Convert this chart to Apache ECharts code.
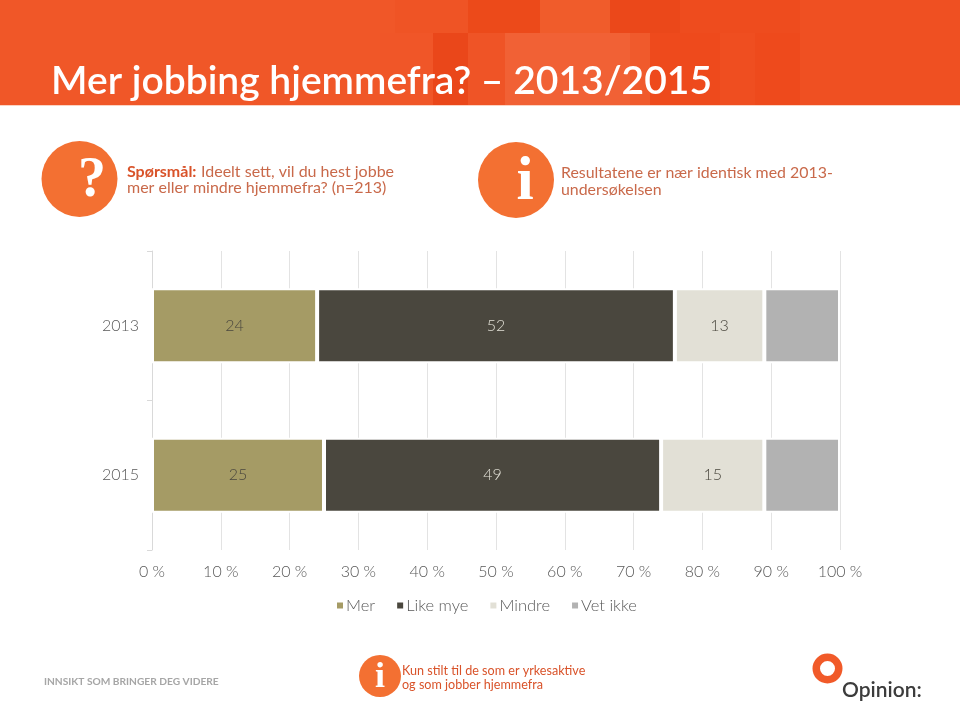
<!DOCTYPE html>
<html><head><meta charset="utf-8">
<style>html,body{margin:0;padding:0;background:#fff}#c{width:960px;height:702px}</style>
<script src="https://cdn.jsdelivr.net/npm/echarts@6/dist/echarts.min.js"></script>
</head><body><div id="c"></div>
<script>
var categories = ['2013', '2015'];
var serMer = [24, 25];
var serLike = [52, 49];
var serMindre = [13, 15];
var serVet = [11, 11];
var F = 'Lato, "Open Sans", sans-serif';
var chart = echarts.init(document.getElementById('c'));
function bar(name, data, color, showLabel, labelColor) {
  return {
    name: name, type: 'bar', stack: 't', data: data, barWidth: 75,
    itemStyle: {color: color, borderColor: '#fff', borderWidth: 2},
    label: {show: showLabel, position: 'inside', color: labelColor, fontFamily: F, fontSize: 16, fontWeight: 300}
  };
}
function tile(x, y, w, h, c) { return {type: 'rect', silent: true, shape: {x: x, y: y, width: w, height: h}, style: {fill: c}}; }
function txt(x, y, s, fs, c, w, extra) {
  var st = {x: x, y: y, text: s, font: (w || 300) + ' ' + fs + 'px ' + F, fill: c, textVerticalAlign: 'middle'};
  for (var k in (extra || {})) st[k] = extra[k];
  return {type: 'text', silent: true, style: st};
}
function circle(cx, cy, r, c) { return {type: 'circle', silent: true, shape: {cx: cx, cy: cy, r: r}, style: {fill: c}}; }
var grey = '#e3e3e3';
var option = {
  animation: false,
  backgroundColor: '#fff',
  grid: {left: 152, right: 120, top: 251, bottom: 152, containLabel: false},
  xAxis: {
    type: 'value', min: 0, max: 100, interval: 10,
    axisLine: {show: false}, axisTick: {show: false},
    splitLine: {show: true, lineStyle: {color: grey, width: 1}},
    axisLabel: {formatter: '{value} %', color: '#595959', fontFamily: F, fontWeight: 300, fontSize: 16, margin: 14}
  },
  yAxis: {
    type: 'category', data: categories, inverse: true,
    axisLine: {show: true, lineStyle: {color: '#d9d9d9'}},
    axisTick: {show: true, length: 5, lineStyle: {color: '#d9d9d9'}},
    axisLabel: {color: '#595959', fontFamily: F, fontWeight: 300, fontSize: 16, margin: 13}
  },
  legend: {
    left: 330, top: 592, itemWidth: 8, itemHeight: 8, itemGap: 20, icon: 'rect',
    textStyle: {color: '#595959', fontFamily: F, fontWeight: 300, fontSize: 16.5, padding: [0, 0, 0, -3]},
    data: ['Mer', 'Like mye', 'Mindre', 'Vet ikke']
  },
  series: [
    bar('Mer', serMer, '#a59b65', true, '#4a473e'),
    bar('Like mye', serLike, '#4a473e', true, '#e2e0d6'),
    bar('Mindre', serMindre, '#e2e0d6', true, '#4a473e'),
    bar('Vet ikke', serVet, '#b2b2b2', false, '#4a473e')
  ],
  graphic: {elements: [
    tile(0, 0, 960, 105, '#f05728'),
    tile(800, 0, 160, 105, '#ef5022'),
    tile(395, 0, 73, 33, '#ef5425'),
    tile(468, 0, 72, 33, '#ec4a1a'),
    tile(540, 0, 70, 33, '#f05c2b'),
    tile(610, 0, 70, 33, '#eb481a'),
    tile(680, 0, 120, 33, '#ee4c1e'),
    tile(380, 33, 53, 72, '#f05628'),
    tile(433, 33, 35, 72, '#ea471a'),
    tile(468, 33, 37, 72, '#ef5426'),
    tile(505, 33, 125, 72, '#f16135'),
    tile(630, 33, 20, 72, '#f05a2c'),
    tile(650, 33, 150, 72, '#ee4a1c'),
    tile(720, 33, 35, 72, '#ef4e20'),
    {type: 'rect', silent: true, shape: {x: 0, y: 105, width: 960, height: 1}, style: {fill: '#fbd3c3'}},
    txt(51, 81, 'Mer jobbing hjemmefra? – 2013/2015', 39, '#ffffff', 600),
    circle(79.5, 179, 38, '#f37032'),
    txt(92, 182, '?', 56, '#ffffff', 700, {font: '700 56px "Liberation Serif", serif', textAlign: 'center'}),
    txt(127, 172, 'Spørsmål:', 16, '#d9532a', 700),
    txt(201, 172, 'Ideelt sett, vil du hest jobbe', 16, '#c9694a', 400),
    txt(127, 188, 'mer eller mindre hjemmefra? (n=213)', 16, '#c9694a', 400),
    circle(516, 180, 38, '#f37032'),
    txt(525, 183, 'i', 62, '#ffffff', 700, {font: '700 62px "Liberation Serif", serif', textAlign: 'center'}),
    txt(561, 173, 'Resultatene er nær identisk med 2013-', 15.9, '#c9694a', 400),
    txt(561, 190, 'undersøkelsen', 15.9, '#c9694a', 400),
    txt(44, 682, 'INNSIKT SOM BRINGER DEG VIDERE', 10.2, '#a6a6a6', 700),
    circle(380, 676, 21, '#f37032'),
    txt(380, 678, 'i', 36, '#ffffff', 700, {font: '700 36px "Liberation Serif", serif', textAlign: 'center'}),
    txt(402, 671, 'Kun stilt til de som er yrkesaktive', 12.6, '#d9532a', 400),
    txt(402, 685, 'og som jobber hjemmefra', 12.6, '#d9532a', 400),
    {type: 'ring', silent: true, shape: {cx: 827.5, cy: 668.5, r: 15, r0: 7.5}, style: {fill: '#f15a29'}},
    txt(842, 690, 'Opinion:', 21, '#3c3c3c', 600)
  ]}
};
chart.setOption(option);
</script></body></html>
